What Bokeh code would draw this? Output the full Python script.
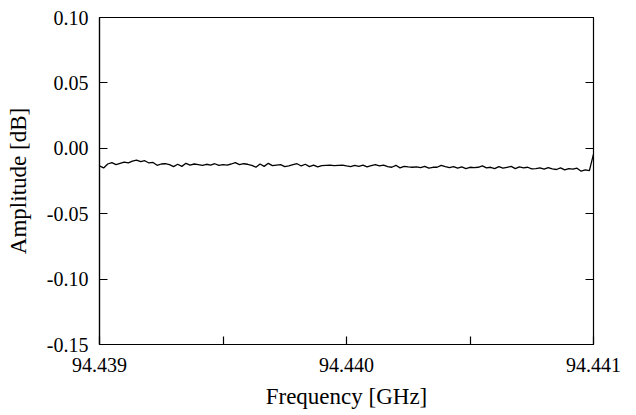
import numpy as np
from bokeh.plotting import figure
from bokeh.models import LinearAxis, FixedTicker, PrintfTickFormatter, Range1d
from bokeh.embed import file_html
from bokeh.resources import INLINE

# Amplitude readings [dB] from left to right
amp_db = [
    -0.0135, -0.0150, -0.0120, -0.0110, -0.0125, -0.0115, -0.0105, -0.0112, -0.0098, -0.0090,
    -0.0102, -0.0095, -0.0112, -0.0108, -0.0130, -0.0120,
    -0.0118, -0.0125, -0.0140, -0.0122, -0.0138, -0.0115, -0.0128, -0.0120, -0.0125, -0.0130,
    -0.0122, -0.0128, -0.0118, -0.0130, -0.0125,
    -0.0128, -0.0120, -0.0110, -0.0125, -0.0118, -0.0122, -0.0130, -0.0145, -0.0120, -0.0138,
    -0.0115, -0.0132, -0.0128, -0.0125, -0.0140,
    -0.0135, -0.0125, -0.0118, -0.0135, -0.0122, -0.0140, -0.0128, -0.0142, -0.0132, -0.0130,
    -0.0128, -0.0133, -0.0130, -0.0128, -0.0135,
    -0.0140, -0.0130, -0.0138, -0.0128, -0.0142, -0.0133, -0.0125, -0.0135, -0.0128, -0.0140,
    -0.0145, -0.0130, -0.0150, -0.0138, -0.0142,
    -0.0145, -0.0142, -0.0148, -0.0138, -0.0152, -0.0145, -0.0145, -0.0130, -0.0140, -0.0148,
    -0.0140, -0.0152, -0.0142, -0.0155, -0.0145,
    -0.0148, -0.0145, -0.0135, -0.0150, -0.0145, -0.0155, -0.0140, -0.0152, -0.0145, -0.0138,
    -0.0155, -0.0142, -0.0150, -0.0145, -0.0158,
    -0.0155, -0.0150, -0.0160, -0.0148, -0.0158, -0.0162, -0.0150, -0.0165, -0.0155, -0.0160,
    -0.0152, -0.0175, -0.0165, -0.0170, -0.0045,
]
f_start, f_stop = 94.439, 94.441
# sampling grid of the sweep (uniform frequency steps)
freq_ghz = np.linspace(f_start, f_stop, len(amp_db))

x_ticks = [94.439, 94.440, 94.441]
x_minor = [94.4395, 94.4405]
y_ticks = [0.10, 0.05, 0.00, -0.05, -0.10, -0.15]

FONT = "'Liberation Serif', 'Times New Roman', serif"

p = figure(width=628, height=407, output_backend="svg", toolbar_location=None,
           x_range=Range1d(f_start, f_stop), y_range=Range1d(-0.15, 0.10),
           x_axis_location="below", y_axis_location="left")
p.frame_width = 494
p.frame_height = 327
p.min_border_left = 99
p.min_border_right = 35
p.min_border_top = 17
p.min_border_bottom = 63

p.line(freq_ghz, amp_db, line_color="black", line_width=1.3)

p.xgrid.visible = False
p.ygrid.visible = False
p.outline_line_color = "black"
p.outline_line_width = 1.2
p.outline_line_alpha = 1.0
p.background_fill_color = "white"
p.border_fill_color = "white"

xa = p.xaxis[0]
xa.ticker = FixedTicker(ticks=x_ticks, minor_ticks=x_minor)
xa.formatter = PrintfTickFormatter(format="%.3f")
xa.major_tick_in = 8
xa.major_tick_out = 0
xa.minor_tick_in = 8
xa.minor_tick_out = 0
xa.axis_label = "Frequency [GHz]"

ya = p.yaxis[0]
ya.ticker = FixedTicker(ticks=y_ticks, minor_ticks=[])
ya.formatter = PrintfTickFormatter(format="%.2f")
ya.major_tick_in = 8
ya.major_tick_out = 0
ya.minor_tick_in = 0
ya.minor_tick_out = 0
ya.axis_label = "Amplitude [dB]"

for ax in (xa, ya):
    ax.axis_line_color = "black"
    ax.axis_line_width = 1.2
    ax.major_tick_line_color = "black"
    ax.major_tick_line_width = 1.2
    ax.minor_tick_line_color = "black"
    ax.minor_tick_line_width = 1.2
    ax.major_label_text_font = FONT
    ax.major_label_text_font_size = "20px"
    ax.major_label_text_color = "black"
    ax.axis_label_text_font = FONT
    ax.axis_label_text_font_size = "23px"
    ax.axis_label_text_font_style = "normal"
    ax.axis_label_text_color = "black"

xa.major_label_standoff = 13
xa.axis_label_standoff = 9
ya.major_label_standoff = 11
ya.axis_label_standoff = 13

ra = LinearAxis(ticker=FixedTicker(ticks=y_ticks, minor_ticks=[]))
ra.major_tick_in = 8
ra.major_tick_out = 0
ra.minor_tick_in = 0
ra.minor_tick_out = 0
ra.major_label_text_font_size = "0px"
ra.major_label_text_color = None
ra.major_label_standoff = 0
ra.axis_line_color = "black"
ra.major_tick_line_color = "black"
ra.major_tick_line_width = 1.2
p.add_layout(ra, "right")

open("out.html", "w").write(file_html(p, INLINE))
